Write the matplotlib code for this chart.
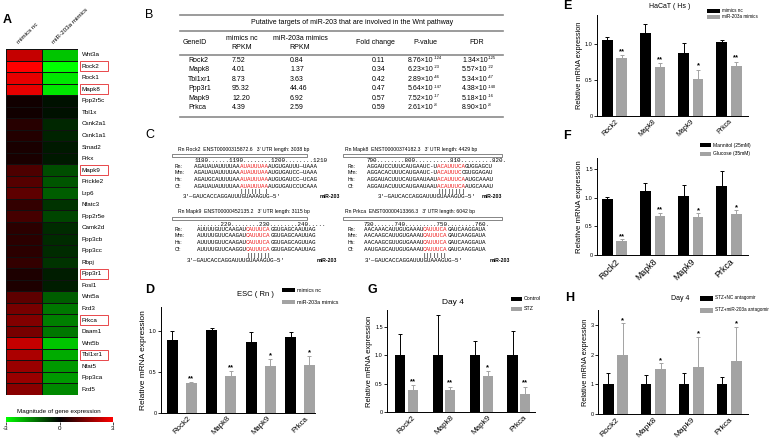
import numpy as np
import matplotlib
matplotlib.use('Agg')
import matplotlib.pyplot as plt
from matplotlib.colors import LinearSegmentedColormap
from matplotlib.patches import Rectangle
from matplotlib.lines import Line2D

plt.rcParams['font.family'] = ['Liberation Sans', 'DejaVu Sans']

# ---- data ----
heat_genes = ['Wnt3a', 'Rock2', 'Rock1', 'Mapk8', 'Ppp2r5c', 'Tbl1x', 'Csnk2a1', 'Csnk1a1',
              'Smad2', 'Prkx', 'Mapk9', 'Prickle2', 'Lrp6', 'Nfatc3', 'Ppp2r5e', 'Camk2d',
              'Ppp3cb', 'Ppp3cc', 'Rbpj', 'Ppp3r1', 'Fosl1', 'Wnt5a', 'Fzd3', 'Prkca',
              'Daam1', 'Wnt5b', 'Tbl1xr1', 'Nfat5', 'Ppp3ca', 'Fzd5']
heat_nc = [2.3, 3.0, 2.7, 2.7, 0.2, 0.2, 0.45, 0.4, 0.3, 0.3, 0.9, 1.0, 1.1, 0.6, 0.8, 0.5,
           0.5, 0.5, 0.6, 0.35, 0.35, 1.1, 1.4, 1.5, 1.4, 2.3, 2.0, 1.8, 1.8, 1.6]
heat_mimics = [-v for v in heat_nc]
boxed = ['Rock2', 'Mapk8', 'Mapk9', 'Ppp3r1', 'Prkca', 'Tbl1xr1']

tab_genes = ['Rock2', 'Mapk8', 'Tbl1xr1', 'Ppp3r1', 'Mapk9', 'Prkca']
tab_nc = ['7.52', '4.01', '8.73', '95.32', '12.20', '4.39']
tab_mim = ['0.84', '1.37', '3.63', '44.46', '6.92', '2.59']
tab_fold = ['0.11', '0.34', '0.42', '0.47', '0.57', '0.59']
tab_p = [('8.76', '-124'), ('6.23', '-23'), ('2.89', '-46'), ('5.64', '-147'), ('7.52', '-17'), ('2.61', '-8')]
tab_fdr = [('1.34', '-125'), ('5.57', '-22'), ('5.34', '-47'), ('4.38', '-140'), ('5.18', '-16'), ('8.90', '-8')]

genes4 = ['Rock2', 'Mapk8', 'Mapk9', 'Prkca']
d_nc = [0.90, 1.02, 0.87, 0.935]
d_nc_err = [0.10, 0.02, 0.12, 0.055]
d_mim = [0.37, 0.45, 0.58, 0.59]
d_mim_err = [0.01, 0.07, 0.08, 0.11]
d_stars = ['**', '**', '*', '*']

e_nc = [1.05, 1.15, 0.87, 1.02]
e_nc_err = [0.04, 0.12, 0.14, 0.03]
e_mim = [0.80, 0.68, 0.51, 0.695]
e_mim_err = [0.045, 0.05, 0.13, 0.06]
e_stars = ['**', '**', '*', '**']

f_man = [0.975, 1.13, 1.03, 1.21]
f_man_err = [0.045, 0.14, 0.20, 0.27]
f_glu = [0.245, 0.68, 0.665, 0.72]
f_glu_err = [0.03, 0.06, 0.065, 0.06]
f_stars = ['**', '**', '*', '*']

g_ctrl = [1.0, 1.0, 1.0, 1.0]
g_ctrl_err = [0.38, 0.71, 0.25, 0.43]
g_stz = [0.38, 0.38, 0.63, 0.31]
g_stz_err = [0.09, 0.07, 0.09, 0.14]
g_stars = ['**', '**', '*', '**']

h_nc = [1.0, 1.0, 1.0, 1.0]
h_nc_err = [0.38, 0.31, 0.38, 0.26]
h_anta = [2.0, 1.5, 1.57, 1.8]
h_anta_err = [1.05, 0.2, 1.03, 1.13]
h_stars = ['*', '*', '*', '*']

W, H = 778, 438
GRAY = '#a3a3a3'
fig = plt.figure(figsize=(W / 100, H / 100), dpi=100)


def box(x0, y0, x1, y1):
    return [x0 / W, 1 - y1 / H, (x1 - x0) / W, (y1 - y0) / H]


def txt(x, y, s, **kw):
    kw.setdefault('va', 'center')
    return fig.text(x / W, 1 - y / H, s, **kw)


def hline(x0, x1, y, **kw):
    fig.add_artist(Line2D([x0 / W, x1 / W], [1 - y / H, 1 - y / H], transform=fig.transFigure, **kw))


def rect(x0, y0, x1, y1, **kw):
    fig.add_artist(Rectangle((x0 / W, 1 - y1 / H), (x1 - x0) / W, (y1 - y0) / H,
                             transform=fig.transFigure, **kw))


def sci(x, y, base, exp, fs=5):
    # "8.76x10" with a small raised exponent
    t = txt(x, y, base + '\u00d710', fontsize=fs)
    n = len(base) + 3
    txt(x + n * fs * 0.56 * 100 / 72 - 1, y - 2.2, exp, fontsize=fs * 0.6)
    return t


# ---- A: heatmap ----
cmap = LinearSegmentedColormap.from_list('gkr', ['#00ff00', '#000000', '#ff0000'])
ax = fig.add_axes(box(6, 49, 78, 395))
data = np.column_stack([heat_nc, heat_mimics])
ax.pcolormesh(data, cmap=cmap, vmin=-3, vmax=3, edgecolors='#111111', linewidth=0.5)
ax.set_xlim(0, 2)
ax.set_ylim(len(heat_genes), 0)
ax.axis('off')
row_h = (395 - 49) / len(heat_genes)
for i, g in enumerate(heat_genes):
    yc = 49 + row_h * (i + 0.5)
    txt(82, yc, g, fontsize=4.5)
    if g in boxed:
        rect(80, yc - 5, 108, yc + 5, fill=False, edgecolor='#e8474a', lw=0.7)
txt(20, 45, 'mimics nc', fontsize=4.5, rotation=45, ha='left', va='bottom', rotation_mode='anchor')
txt(55, 45, 'miR-203a mimics', fontsize=4.5, rotation=45, ha='left', va='bottom', rotation_mode='anchor')
txt(3, 20, 'A', fontsize=9, fontweight='bold')

cax = fig.add_axes(box(6, 417, 113, 422))
cax.imshow(np.linspace(-3, 3, 256)[None, :], aspect='auto', cmap=cmap, extent=[-3, 3, 0, 1])
cax.set_yticks([])
cax.set_xticks([-3, 0, 3], ['-3', '0', '3'])
cax.tick_params(axis='x', labelsize=4.5, length=2, width=0.5, pad=1)
for s in cax.spines.values():
    s.set_visible(False)
txt(59, 411, 'Magnitude of gene expression', fontsize=4.5, ha='center')

# ---- B: table ----
txt(145, 15, 'B', fontsize=9)
for y in [15, 31, 55, 117]:
    hline(180, 503, y, color='#8a8a8a', lw=1.2)
txt(352, 23, 'Putative targets of miR-203 that are involved in the Wnt pathway', fontsize=5, ha='center')
txt(195, 43, 'GeneID', fontsize=5, ha='center')
txt(242, 43, 'mimics nc\nRPKM', fontsize=5, ha='center', linespacing=1.3)
txt(300, 43, 'miR-203a mimics\nRPKM', fontsize=5, ha='center', linespacing=1.3)
txt(375, 43, 'Fold change', fontsize=5, ha='center')
txt(425, 43, 'P-value', fontsize=5, ha='center')
txt(477, 43, 'FDR', fontsize=5, ha='center')
row_y = [60, 69.5, 79.3, 89, 98.5, 107.5]
for i, y in enumerate(row_y):
    txt(188, y, tab_genes[i], fontsize=5)
    txt(232, y, tab_nc[i], fontsize=5)
    txt(290, y, tab_mim[i], fontsize=5)
    txt(372, y, tab_fold[i], fontsize=5)
    sci(408, y, *tab_p[i])
    sci(462, y, *tab_fdr[i])

# ---- C: sequence alignments ----
txt(145, 135, 'C', fontsize=9)
SEQ_FS = 4.2
CW = 0.6 * SEQ_FS * 100 / 72
mono = 'Liberation Mono'

blocks = [
    dict(hx=178, hy=149, rx=(172, 307), ry=155, lx=175, red_x=240,
         header="Rn Rock2  ENST00000315872.6   3' UTR length: 3038 bp",
         pos='1180......1190........1200........1210',
         rows=[('Rn:', 'AGAUAUAUUUUAA', 'AUAUUUAA', 'AUGUGAUUU\u2014UAAA'),
               ('Mm:', 'AGAUAUAUUUUAA', 'AUAUUUAA', 'AUGUGAUCC\u2014UAAA'),
               ('Hs:', 'AGAUGCAUUUUAA', 'AUAUUUAA', 'AUGUGAUCC\u2014UCAG'),
               ('Cf:', 'AGAUAUAUUUUAA', 'AUAUUUAA', 'AUGUGAUCCUCAAA')],
         bars='|||||| |', mir_x=183, mir_lab=320),
    dict(hx=345, hy=149, rx=(343, 502), ry=155, lx=348, red_x=437,
         header="Rn Mapk8  ENST00000374182.3   3' UTR length: 4429 bp",
         pos='790........800..........810.........820.',
         rows=[('Rn:', 'AGGAUCCUUUCAUGAAUC-U', 'ACAUUUCA', 'GUGGAGCU'),
               ('Mm:', 'AGGACACUUUCAUGAAUC-U', 'ACAUUUC', 'CGUGGAGAU'),
               ('Hs:', 'AGGAUACUUUCAUGAAUAAU', 'ACAUUUCA', 'AUGCAAAU'),
               ('Cf:', 'AGGAUACUUUCAUGAAUAAU', 'ACAUUUCA', 'AUGCAAAU')],
         bars='||||||||', mir_x=378, mir_lab=482),
    dict(hx=178, hy=212, rx=(172, 307), ry=218, lx=175, red_x=246,
         header="Rn Mapk9  ENST00000452135.2   3' UTR length: 3115 bp",
         pos='.......220........230........240.....',
         rows=[('Rn:', 'AUUUUGUUCAAGAU', 'CAUUUCA', 'GGUGAGCAAUUAG'),
               ('Mm:', 'AUUUUGUUCAAGAU', 'CAUUUCA', 'GGUGAGCAAUUAG'),
               ('Hs:', 'AUUUUGUUCAAGAU', 'CAUUUCA', 'GGUGAGCAGUUAG'),
               ('Cf:', 'AUUUUGUUCAAGGU', 'CAUUUCA', 'GGUGAGCAAUUAG')],
         bars='|||||||', mir_x=187, mir_lab=317),
    dict(hx=345, hy=212, rx=(343, 502), ry=218, lx=348, red_x=423,
         header="Rn Prkca  ENST00000413366.3   3' UTR length: 6042 bp",
         pos='730......740.........750........760.',
         rows=[('Rn:', 'AACAAACAUUGUGAAAU', 'CAUUUCA', 'GAUCAAGGAUA'),
               ('Mm:', 'AACAAGCAUUGUGAAAU', 'CAUUUCA', 'GAUCAAGGAUA'),
               ('Hs:', 'AACAAGCGUUGUGAAAU', 'CAUUUCA', 'GAUCAAGGAUA'),
               ('Cf:', 'AAUGAGCAUUGUGAAAU', 'CAUUUCA', 'GAUCAAGGAUA')],
         bars='|||||||', mir_x=365, mir_lab=490),
]
for b in blocks:
    y0 = b['hy']
    txt(b['hx'], y0, b['header'], fontsize=3.7)
    rect(b['rx'][0], b['ry'] - 1.5, b['rx'][1], b['ry'] + 1.5, fill=False, edgecolor='#555555', lw=0.5)
    start = b['red_x'] - len(b['rows'][0][1]) * CW
    txt(start, y0 + 12, b['pos'], fontsize=SEQ_FS, family=mono)
    for j, (sp, pre, red, suf) in enumerate(b['rows']):
        y = y0 + 17 + j * 6.8
        txt(b['lx'], y, sp, fontsize=3.7)
        txt(start, y, pre, fontsize=SEQ_FS, family=mono)
        txt(b['red_x'], y, red, fontsize=SEQ_FS, family=mono, color='#ee1c1c')
        txt(b['red_x'] + len(red) * CW, y, suf, fontsize=SEQ_FS, family=mono)
    txt(b['red_x'], y0 + 43, b['bars'], fontsize=SEQ_FS, family=mono)
    txt(b['mir_x'], y0 + 48, "3'\u2014GAUCACCAGGAUUUGUAAAGUG\u20145'", fontsize=SEQ_FS, family=mono)
    txt(b['mir_lab'], y0 + 48, 'miR-203', fontsize=3.7, fontweight='bold')


# ---- bar charts ----
def bar_panel(pix, xlim, ylim, yticks, yticklabels, black, black_err, gray, gray_err, stars,
              width, off, ylab_fs, xt_fs, xt_ha, star_pad):
    ax = fig.add_axes(box(*pix))
    x = np.arange(len(genes4))
    zero = [0] * len(genes4)
    ax.bar(x - off, black, width, color='black', yerr=[zero, black_err],
           error_kw=dict(ecolor='black', elinewidth=0.7, capsize=1.5, capthick=0.7))
    ax.bar(x + off, gray, width, color=GRAY, yerr=[zero, gray_err],
           error_kw=dict(ecolor=GRAY, elinewidth=0.7, capsize=1.5, capthick=0.7))
    for i in range(len(genes4)):
        ax.text(x[i] + off, gray[i] + gray_err[i] + star_pad, stars[i], ha='center', va='center',
                fontsize=5.5, fontweight='bold')
    ax.set_xlim(*xlim)
    ax.set_ylim(*ylim)
    ax.set_yticks(yticks, yticklabels)
    for s in ['top', 'right']:
        ax.spines[s].set_visible(False)
    for s in ['left', 'bottom']:
        ax.spines[s].set_linewidth(0.7)
    ax.tick_params(axis='y', labelsize=4, length=2, width=0.6, pad=1)
    ax.tick_params(axis='x', length=0, pad=1.5)
    if xt_ha == 'center':
        ax.set_xticks(x, genes4, rotation=45, fontsize=xt_fs)
    else:
        ax.set_xticks(x, genes4, rotation=45, fontsize=xt_fs, ha='right', rotation_mode='anchor')
    ax.set_ylabel('Relative mRNA expression', fontsize=ylab_fs, labelpad=1.5)
    return ax


def legend(x, ys, labels, w=13, h=4, fs=3.8):
    for y, lab, c in zip(ys, labels, ['black', GRAY]):
        rect(x, y - h / 2, x + w, y + h / 2, facecolor=c, edgecolor='none')
        txt(x + w + 2, y, lab, fontsize=fs)


# D
bar_panel((161, 307, 315, 413), (-0.53, 3.38), (0, 1.3), [0, 0.5, 1.0], ['0', '0.5', '1.0'],
          d_nc, d_nc_err, d_mim, d_mim_err, d_stars, 0.28, 0.24, 6, 5.6, 'center', 0.04)
txt(145, 290, 'D', fontsize=9, fontweight='bold')
txt(255, 295, 'ESC ( Rn )', fontsize=5.5, ha='center')
legend(282, [290, 302], ['mimics nc', 'miR-203a mimics'])

# G
bar_panel((387, 310, 535, 412), (-0.52, 3.43), (0, 1.8), [0, 0.5, 1.0, 1.5], ['0', '0.5', '1.0', '1.5'],
          g_ctrl, g_ctrl_err, g_stz, g_stz_err, g_stars, 0.27, 0.17, 5.5, 5.8, 'center', 0.06)
txt(367, 290, 'G', fontsize=9, fontweight='bold')
txt(453, 302, 'Day 4', fontsize=6, ha='center')
legend(511, [299, 309], ['Control', 'STZ'], w=11)

# E
bar_panel((597, 15, 748, 116), (-0.46, 3.5), (0, 1.4), [0, 0.5, 1.0], ['0', '0.5', '1.0'],
          e_nc, e_nc_err, e_mim, e_mim_err, e_stars, 0.28, 0.19, 5.3, 5, 'right', 0.05)
txt(563, 6, 'E', fontsize=9, fontweight='bold')
txt(670, 6, 'HaCaT ( Hs )', fontsize=5, ha='center')
legend(707, [11, 17], ['mimics nc', 'miR-203a mimics'], w=13, h=3.5, fs=3.3)

# F
bar_panel((597, 158, 748, 255), (-0.46, 3.5), (0, 1.7), [0, 0.5, 1.0, 1.5], ['0', '0.5', '1.0', '1.5'],
          f_man, f_man_err, f_glu, f_glu_err, f_stars, 0.28, 0.19, 5.6, 6.3, 'right', 0.05)
txt(563, 136, 'F', fontsize=9, fontweight='bold')
legend(700, [145, 154], ['Mannitol (25mM)', 'Glucose (35mM)'], w=11, h=4, fs=3.6)

# H
bar_panel((598, 310, 748, 414), (-0.46, 3.5), (0, 3.5), [0, 1, 2, 3], ['0', '1', '2', '3'],
          h_nc, h_nc_err, h_anta, h_anta_err, h_stars, 0.28, 0.19, 5.3, 6, 'right', 0.1)
txt(565, 298, 'H', fontsize=9, fontweight='bold')
txt(680, 298, 'Day 4', fontsize=5, ha='center')
legend(700, [298, 310], ['STZ+NC antagomir', 'STZ+miR-203a antagomir'], w=13, h=5, fs=3.3)

plt.savefig('out.png', dpi=100)
